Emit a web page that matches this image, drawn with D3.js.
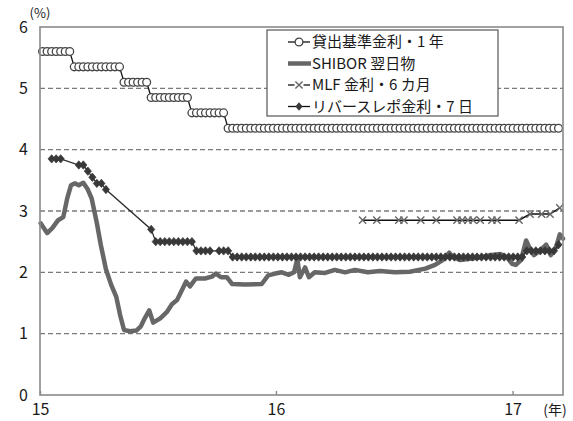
<!DOCTYPE html>
<html>
<head>
<meta charset="utf-8">
<script src="https://cdn.jsdelivr.net/npm/d3@7"></script>
<style>
  html, body { margin: 0; padding: 0; background: #fff; }
  svg { display: block; font-family: "Noto Sans CJK JP", "Noto Sans", sans-serif; }
</style>
</head>
<body>
<svg id="chart" width="573" height="421"></svg>
<script>
// ---- Data -----------------------------------------------------------
const yTicks = [0, 1, 2, 3, 4, 5, 6];
const xTickYears = ["2015-01-01", "2016-01-01", "2017-01-01"];
const xTickLabels = ["15", "16", "17"];

const seriesNames = ["貸出基準金利・1 年", "SHIBOR 翌日物", "MLF 金利・6 カ月", "リバースレポ金利・7 日"];

// Weekly observation dates (Mondays) for the benchmark lending rate and 7-day reverse repo
const weeks = d3.timeMonday.range(new Date(2015, 0, 5), new Date(2017, 2, 14));

// Benchmark lending rate, 1 year (%), weekly
const lendingRate = [
  5.60, 5.60, 5.60, 5.60, 5.60, 5.60, 5.60,
  5.35, 5.35, 5.35, 5.35, 5.35, 5.35, 5.35, 5.35, 5.35, 5.35, 5.35,
  5.10, 5.10, 5.10, 5.10, 5.10, 5.10,
  4.85, 4.85, 4.85, 4.85, 4.85, 4.85, 4.85, 4.85, 4.85,
  4.60, 4.60, 4.60, 4.60, 4.60, 4.60, 4.60, 4.60,
  4.35, 4.35, 4.35, 4.35, 4.35, 4.35, 4.35, 4.35, 4.35, 4.35,
  4.35, 4.35, 4.35, 4.35, 4.35, 4.35, 4.35, 4.35, 4.35, 4.35,
  4.35, 4.35, 4.35, 4.35, 4.35, 4.35, 4.35, 4.35, 4.35, 4.35,
  4.35, 4.35, 4.35, 4.35, 4.35, 4.35, 4.35, 4.35, 4.35, 4.35,
  4.35, 4.35, 4.35, 4.35, 4.35, 4.35, 4.35, 4.35, 4.35, 4.35,
  4.35, 4.35, 4.35, 4.35, 4.35, 4.35, 4.35, 4.35, 4.35, 4.35,
  4.35, 4.35, 4.35, 4.35, 4.35, 4.35, 4.35, 4.35, 4.35, 4.35,
  4.35, 4.35, 4.35, 4.35
];

// 7-day reverse repo rate (%), weekly; null = no operation that week
const repoRate = [
  null, null, 3.85, 3.85, 3.85, null, null, null, 3.75, 3.75,
  3.65, 3.55, 3.45, 3.45, 3.35,
  null, null, null, null, null, null, null, null, null,
  2.70,
  2.50, 2.50, 2.50, 2.50, 2.50, 2.50, 2.50, 2.50, 2.50,
  2.35, 2.35, 2.35, 2.35, null, 2.35, 2.35, 2.35,
  2.25, 2.25, 2.25, 2.25, 2.25, 2.25, 2.25, 2.25, 2.25, 2.25,
  2.25, 2.25, 2.25, 2.25, 2.25, 2.25, 2.25, 2.25, 2.25, 2.25,
  2.25, 2.25, 2.25, 2.25, 2.25, 2.25, 2.25, 2.25, 2.25, 2.25,
  2.25, 2.25, 2.25, 2.25, 2.25, 2.25, 2.25, 2.25, 2.25, 2.25,
  2.25, 2.25, 2.25, 2.25, 2.25, 2.25, 2.25, 2.25, 2.25, 2.25,
  2.25, 2.25, 2.25, 2.25, 2.25, 2.25, 2.25, 2.25, 2.25, 2.25,
  2.25, 2.25, 2.25, 2.25, 2.25,
  2.35, 2.35, 2.35, 2.35, 2.35, 2.35, 2.35,
  2.45
];

// SHIBOR overnight (%)
const shiborDates = [
  "2015-01-02", "2015-01-12", "2015-01-20", "2015-01-29", "2015-02-06", "2015-02-12",
  "2015-02-18", "2015-02-24", "2015-03-02", "2015-03-09", "2015-03-16", "2015-03-22",
  "2015-03-30", "2015-04-05", "2015-04-13", "2015-04-21", "2015-04-29", "2015-05-05",
  "2015-05-11", "2015-05-20", "2015-05-30", "2015-06-06", "2015-06-12", "2015-06-19",
  "2015-06-25", "2015-07-06", "2015-07-16", "2015-07-24", "2015-08-01", "2015-08-09",
  "2015-08-15", "2015-08-21", "2015-08-30", "2015-09-13", "2015-09-24", "2015-09-30",
  "2015-10-08", "2015-10-17", "2015-10-25", "2015-11-14", "2015-12-10", "2015-12-20",
  "2015-12-31", "2016-01-10", "2016-01-21", "2016-01-29", "2016-02-03", "2016-02-07",
  "2016-02-15", "2016-02-21", "2016-03-01", "2016-03-17", "2016-04-01", "2016-04-17",
  "2016-05-02", "2016-05-22", "2016-06-10", "2016-07-03", "2016-07-26", "2016-08-19",
  "2016-09-03", "2016-09-15", "2016-09-25", "2016-10-01", "2016-10-12", "2016-10-27",
  "2016-11-12", "2016-11-27", "2016-12-13", "2016-12-23", "2016-12-31", "2017-01-06",
  "2017-01-14", "2017-01-22", "2017-01-28", "2017-02-03", "2017-02-12", "2017-02-22",
  "2017-03-01", "2017-03-09", "2017-03-15", "2017-03-20"
];
const shiborRate = [
  2.80, 2.64, 2.72, 2.85, 2.90, 3.20,
  3.42, 3.45, 3.42, 3.46, 3.35, 3.20,
  2.80, 2.45, 2.05, 1.80, 1.60, 1.30,
  1.06, 1.04, 1.05, 1.12, 1.25, 1.38,
  1.18, 1.25, 1.35, 1.48, 1.55, 1.72,
  1.85, 1.77, 1.90, 1.90, 1.93, 1.98,
  1.92, 1.92, 1.81, 1.80, 1.81, 1.95,
  1.98, 2.00, 1.96, 2.00, 2.22, 1.92,
  2.08, 1.92, 2.00, 1.99, 2.04, 2.00,
  2.04, 2.00, 2.02, 2.00, 2.01, 2.06,
  2.12, 2.20, 2.32, 2.25, 2.20, 2.22,
  2.24, 2.28, 2.30, 2.25, 2.14, 2.12,
  2.20, 2.52, 2.38, 2.28, 2.35, 2.45,
  2.28, 2.40, 2.62, 2.55
];

// MLF rate, 6 months (%)
const mlfDates = [
  "2016-05-14", "2016-06-05", "2016-07-09", "2016-07-17", "2016-08-12", "2016-09-05",
  "2016-10-07", "2016-10-15", "2016-10-24", "2016-11-01", "2016-11-12", "2016-11-30",
  "2016-12-08", "2017-01-11", "2017-01-28", "2017-02-15", "2017-02-28", "2017-03-15"
];
const mlfRate = [
  2.85, 2.85, 2.85, 2.85, 2.85, 2.85,
  2.85, 2.85, 2.85, 2.85, 2.85, 2.85,
  2.85, 2.85, 2.95, 2.95, 2.95, 3.05
];

// ---- Layout ---------------------------------------------------------
const svg = d3.select("#chart");
const plot = { left: 40, right: 563, top: 27, bottom: 395 };
const parse = d3.utcParse("%Y-%m-%d");
const toLocal = s => { const d = parse(s); return new Date(d.getUTCFullYear(), d.getUTCMonth(), d.getUTCDate()); };

const x = d3.scaleTime()
  .domain([new Date(2015, 0, 1), new Date(2017, 2, 20)])
  .range([plot.left, plot.right]);
const y = d3.scaleLinear().domain([0, 6]).range([plot.bottom, plot.top]);

const gridColor = "#7a7a7a";
const frameColor = "#8a8a8a";
const fontSize = 15;
const tickFontSize = 16;

// Dashed horizontal gridlines
svg.append("g")
  .selectAll("line")
  .data(yTicks.filter(v => v > 0 && v < 6))
  .join("line")
  .attr("x1", plot.left).attr("x2", plot.right)
  .attr("y1", d => y(d)).attr("y2", d => y(d))
  .attr("stroke", gridColor)
  .attr("stroke-width", 1.4)
  .attr("stroke-dasharray", "5,3");

// Y axis labels
const yAxis = d3.axisLeft(y).tickValues(yTicks).tickSize(0).tickPadding(12).tickFormat(d3.format("d"));
svg.append("g")
  .attr("transform", `translate(${plot.left},0)`)
  .call(yAxis)
  .call(g => g.select(".domain").remove())
  .call(g => g.selectAll("text")
    .attr("font-size", tickFontSize)
    .attr("font-family", "'Noto Sans CJK JP', sans-serif")
    .attr("fill", "#1a1a1a"));

// X axis with short inward ticks
const xAxis = d3.axisBottom(x)
  .tickValues(xTickYears.map(toLocal))
  .tickSize(-4)
  .tickPadding(9)
  .tickFormat((d, i) => xTickLabels[i]);
svg.append("g")
  .attr("transform", `translate(0,${plot.bottom})`)
  .call(xAxis)
  .call(g => g.select(".domain").remove())
  .call(g => g.selectAll(".tick line").attr("stroke", frameColor).attr("stroke-width", 1.4))
  .call(g => g.selectAll("text")
    .attr("font-size", tickFontSize)
    .attr("font-family", "'Noto Sans CJK JP', sans-serif")
    .attr("fill", "#1a1a1a"));

// Unit labels
svg.append("text")
  .attr("x", 40).attr("y", 18)
  .attr("text-anchor", "middle")
  .attr("font-size", 13)
  .attr("fill", "#1a1a1a")
  .text("(%)");
svg.append("text")
  .attr("x", 555).attr("y", 415)
  .attr("text-anchor", "middle")
  .attr("font-size", 14)
  .attr("fill", "#1a1a1a")
  .text("(年)");

// ---- Series ---------------------------------------------------------
const lendingData = weeks.map((d, i) => ({ date: d, value: lendingRate[i] }));
const repoData = weeks.map((d, i) => ({ date: d, value: repoRate[i] })).filter(d => d.value != null);
const shiborData = shiborDates.map((s, i) => ({ date: toLocal(s), value: shiborRate[i] }));
const mlfData = mlfDates.map((s, i) => ({ date: toLocal(s), value: mlfRate[i] }));

const line = d3.line().x(d => x(d.date)).y(d => y(d.value));

const diamondPath = "M0,-4.2L3.6,0L0,4.2L-3.6,0Z";
const crossPath = "M-3.6,-3.6L3.6,3.6M-3.6,3.6L3.6,-3.6";

const series = svg.append("g");

// Lending rate: thin black line with open circles
series.append("path")
  .datum(lendingData)
  .attr("d", line)
  .attr("fill", "none")
  .attr("stroke", "#111")
  .attr("stroke-width", 1.3);
series.append("g")
  .selectAll("circle")
  .data(lendingData)
  .join("circle")
  .attr("cx", d => x(d.date))
  .attr("cy", d => y(d.value))
  .attr("r", 3.9)
  .attr("fill", "#fff")
  .attr("stroke", "#444")
  .attr("stroke-width", 1.3);

// SHIBOR overnight: thick grey line
series.append("path")
  .datum(shiborData)
  .attr("d", line)
  .attr("fill", "none")
  .attr("stroke", "#676767")
  .attr("stroke-width", 4.5)
  .attr("stroke-linejoin", "round")
  .attr("stroke-linecap", "round");

// MLF: black line with cross markers
series.append("path")
  .datum(mlfData)
  .attr("d", line)
  .attr("fill", "none")
  .attr("stroke", "#111")
  .attr("stroke-width", 1.5);
series.append("g")
  .selectAll("path")
  .data(mlfData)
  .join("path")
  .attr("transform", d => `translate(${x(d.date)},${y(d.value)})`)
  .attr("d", crossPath)
  .attr("stroke", "#666")
  .attr("stroke-width", 1.4)
  .attr("fill", "none");

// Reverse repo: dark line with filled diamonds
series.append("path")
  .datum(repoData)
  .attr("d", line)
  .attr("fill", "none")
  .attr("stroke", "#2e2e2e")
  .attr("stroke-width", 1.3);
series.append("g")
  .selectAll("path")
  .data(repoData)
  .join("path")
  .attr("transform", d => `translate(${x(d.date)},${y(d.value)})`)
  .attr("d", diamondPath)
  .attr("fill", "#383838")
  .attr("stroke", "#383838")
  .attr("stroke-width", 0.7);

// Plot frame
svg.append("rect")
  .attr("x", plot.left).attr("y", plot.top)
  .attr("width", plot.right - plot.left)
  .attr("height", plot.bottom - plot.top)
  .attr("fill", "none")
  .attr("stroke", frameColor)
  .attr("stroke-width", 1.6);

// ---- Legend ---------------------------------------------------------
const legend = svg.append("g").attr("transform", "translate(267,30)");
legend.append("rect")
  .attr("width", 231).attr("height", 86)
  .attr("fill", "#fff")
  .attr("stroke", "#555")
  .attr("stroke-width", 1.2);

const rowY = i => 12 + i * 21.5;
const sx1 = 21, sx2 = 43, sxm = 32;
seriesNames.forEach((name, i) => {
  const row = legend.append("g").attr("transform", `translate(0,${rowY(i)})`);
  if (i === 1) {
    row.append("line").attr("x1", sx1).attr("x2", sx2 + 1)
      .attr("stroke", "#676767").attr("stroke-width", 4.5);
  } else {
    row.append("line").attr("x1", sx1).attr("x2", sx2)
      .attr("stroke", "#111").attr("stroke-width", 1.3);
  }
  if (i === 0) {
    row.append("circle").attr("cx", sxm).attr("r", 3.9)
      .attr("fill", "#fff").attr("stroke", "#444").attr("stroke-width", 1.3);
  } else if (i === 2) {
    row.append("rect").attr("x", sxm - 4.5).attr("y", -4.5).attr("width", 9).attr("height", 9).attr("fill", "#fff");
    row.append("path").attr("transform", `translate(${sxm},0)`).attr("d", crossPath)
      .attr("stroke", "#666").attr("stroke-width", 1.4).attr("fill", "none");
  } else if (i === 3) {
    row.append("path").attr("transform", `translate(${sxm},0)`).attr("d", diamondPath)
      .attr("fill", "#383838");
  }
  row.append("text")
    .attr("x", 45).attr("y", 0)
    .attr("dy", "0.36em")
    .attr("font-size", fontSize)
    .attr("fill", "#1a1a1a")
    .text(name);
});
</script>
</body>
</html>
